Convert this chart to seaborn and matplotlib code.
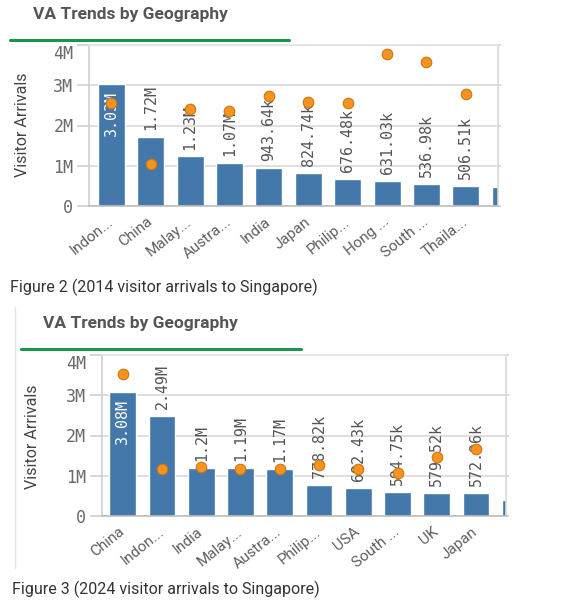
import numpy as np
import seaborn as sns
import matplotlib.pyplot as plt
from matplotlib.lines import Line2D

# 2014 arrivals (bars) and the orange marker measure
cats_2014 = ["Indon...", "China", "Malay...", "Austra...", "India", "Japan",
             "Philip...", "Hong ...", "South ...", "Thaila...", "USA"]
arrivals_2014 = [3030000, 1720000, 1230000, 1070000, 943640, 824740,
                 676480, 631030, 536980, 506510, 480000]
marker_2014 = [2550000, 1040000, 2400000, 2370000, 2730000, 2590000,
               2550000, 3780000, 3570000, 2780000, np.nan]

# 2024 arrivals (bars) and the orange marker measure
cats_2024 = ["China", "Indon...", "India", "Malay...", "Austra...", "Philip...",
             "USA", "South ...", "UK", "Japan", "Hong ..."]
arrivals_2024 = [3080000, 2490000, 1200000, 1190000, 1170000, 778820,
                 692430, 594750, 579520, 572960, 400000]
marker_2024 = [3520000, 1160000, 1220000, 1170000, 1160000, 1270000,
               1170000, 1080000, 1460000, 1660000, np.nan]

yticks = [0, 1000000, 2000000, 3000000, 4000000]
ytick_labels = ["0", "1M", "2M", "3M", "4M"]

BAR = "#4477AA"
DOT = "#F7931E"
W, H = 571, 609

sns.set_theme(style="white")
plt.rcParams["font.family"] = ["Roboto", "DejaVu Sans"]


def fmt(v):
    if v >= 1e6:
        return f"{v / 1e6:.2f}".rstrip("0").rstrip(".") + "M"
    return f"{v / 1e3:.2f}k"


def px(x, y):
    return x / W, 1 - y / H


fig = plt.figure(figsize=(W / 100, H / 100), dpi=100)


def draw_panel(rect, cats, vals, dots, xlim):
    ax = fig.add_axes(rect)
    pos = np.arange(len(cats))
    sns.barplot(x=pos, y=vals, color=BAR, saturation=1, width=0.685,
                native_scale=True, ax=ax, zorder=2)
    sns.scatterplot(x=pos, y=dots, color=DOT, s=58, edgecolor="#C9780F",
                    linewidth=0.8, legend=False, ax=ax, zorder=5)
    for i, v in enumerate(vals):
        if v > 2.9e6:
            ax.annotate(fmt(v), (i, v), xytext=(0, -5), textcoords="offset points",
                        rotation=90, ha="center", va="top", color="white",
                        family="DejaVu Sans Mono", fontsize=10.8, zorder=4)
        else:
            ax.annotate(fmt(v), (i, v), xytext=(0, 5), textcoords="offset points",
                        rotation=90, ha="center", va="bottom", color="#555555",
                        family="DejaVu Sans Mono", fontsize=10.8, zorder=4)
    ax.set_xticks(pos)
    ax.set_xticklabels(cats, rotation=39, ha="right", va="center",
                       rotation_mode="anchor", color="#5f5f5f", fontsize=11)
    ax.set_yticks(yticks)
    ax.set_yticklabels(ytick_labels, color="#6a6a6a", fontsize=12,
                       family="DejaVu Sans Mono")
    ax.get_yticklabels()[-1].set_va("top")
    ax.set_xlim(*xlim)
    ax.set_ylim(0, 4000000)
    ax.tick_params(axis="x", length=0, pad=10)
    ax.tick_params(axis="y", left=True, right=True, length=8.5, width=1.2,
                   color="#cfcfcf", pad=3)
    ax.tick_params(axis="y", which="major", labelright=False)
    ax.yaxis.grid(True, color="#dcdcdc", lw=1.3)
    ax.set_axisbelow(True)
    for side, c in [("left", "#cfcfcf"), ("bottom", "#bdbdbd"),
                    ("top", "#e3e3e3"), ("right", "#d9d9d9")]:
        ax.spines[side].set_color(c)
        ax.spines[side].set_linewidth(1.2)
    for t in ax.yaxis.get_major_ticks():
        t.tick2line.set_markersize(2.5)
    ax.set_xlabel("")
    ax.set_ylabel("")
    return ax


# panel 1 (2014)
draw_panel([89.3 / W, 1 - 206 / H, (498 - 89.3) / W, 161 / H],
           cats_2014, arrivals_2014, marker_2014, (-0.556, 9.817))
fig.text(*px(32.7, 14), "VA Trends by Geography", fontsize=12.5,
         fontweight="bold", color="#555555", va="center")
fig.add_artist(Line2D([10 / W, 289 / W], [1 - 40 / H] * 2, color="#17964A",
                      lw=2.2, transform=fig.transFigure))
fig.text(*px(22.5, 125), "Visitor Arrivals", rotation=90, fontsize=11.5,
         color="#444444", ha="center", va="center")
fig.text(*px(10, 287.3), "Figure 2 (2014 visitor arrivals to Singapore)",
         fontsize=11.5, color="#333333", va="center")

# panel 2 (2024)
draw_panel([101.7 / W, 1 - 516 / H, (506 - 101.7) / W, 161 / H],
           cats_2024, arrivals_2024, marker_2024, (-0.535, 9.763))
fig.add_artist(Line2D([15 / W] * 2, [1 - 307 / H, 1 - 568 / H], color="#e4e4e4",
                      lw=1, transform=fig.transFigure))
fig.text(*px(43, 323.3), "VA Trends by Geography", fontsize=12.5,
         fontweight="bold", color="#555555", va="center")
fig.add_artist(Line2D([20.7 / W, 300.7 / W], [1 - 348.5 / H] * 2, color="#17964A",
                      lw=2.2, transform=fig.transFigure))
fig.text(*px(32.5, 436.7), "Visitor Arrivals", rotation=90, fontsize=11.5,
         color="#444444", ha="center", va="center")
fig.text(*px(11.7, 589), "Figure 3 (2024 visitor arrivals to Singapore)",
         fontsize=11.5, color="#333333", va="center")

fig.savefig("out.png", dpi=100)
